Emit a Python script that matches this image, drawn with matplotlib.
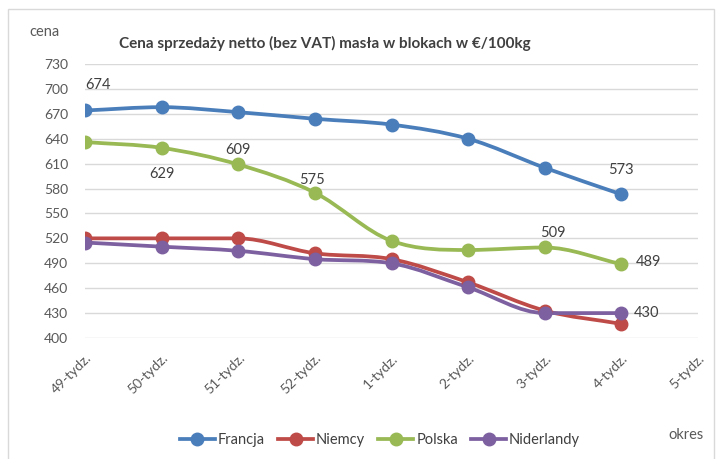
import numpy as np
import matplotlib
matplotlib.use('Agg')
import matplotlib.pyplot as plt
from matplotlib.path import Path
from matplotlib.patches import PathPatch, Rectangle
from matplotlib.lines import Line2D

# dane z wykresu
okresy = ['49-tydz.', '50-tydz.', '51-tydz.', '52-tydz.', '1-tydz.',
          '2-tydz.', '3-tydz.', '4-tydz.', '5-tydz.']
francja = [674, 678, 672, 664, 657, 640, 605, 573]
niemcy = [520, 520, 520, 502, 495, 467, 433, 417]
polska = [636, 629, 609, 575, 517, 506, 509, 489]
niderlandy = [515, 510, 505, 495, 490, 461, 430, 430]
y_ticks = [400, 430, 460, 490, 520, 550, 580, 610, 640, 670, 700, 730]

plt.rcParams['font.family'] = ['Lato', 'DejaVu Sans']

serie = [('Francja', francja, '#4a7ebb'),
         ('Niemcy', niemcy, '#be4b48'),
         ('Polska', polska, '#98b954'),
         ('Niderlandy', niderlandy, '#7d60a0')]

# etykiety danych: (seria, indeks, przesuniecie w pikselach)
etykiety = [('Francja', 0, (13, 25)), ('Francja', 7, (0, 24)),
            ('Polska', 1, (0, -26)), ('Polska', 2, (0, 14)),
            ('Polska', 3, (-3, 13)), ('Polska', 6, (8, 14)),
            ('Polska', 7, (27, 2)), ('Niderlandy', 7, (25, 0))]


def gladka_linia(x, y):
    # wygladzona linia (krzywe Beziera) bez przestrzeliwania
    x = np.asarray(x, float)
    y = np.asarray(y, float)
    n = len(x)
    d = np.diff(y) / np.diff(x)
    m = np.zeros(n)
    m[0], m[-1] = d[0], d[-1]
    for i in range(1, n - 1):
        if d[i - 1] * d[i] <= 0:
            m[i] = 0.0
        else:
            m[i] = (d[i - 1] + d[i]) / 2
            m[i] = np.sign(m[i]) * min(abs(m[i]), 3 * min(abs(d[i - 1]), abs(d[i])))
    verts = [(x[0], y[0])]
    codes = [Path.MOVETO]
    for i in range(n - 1):
        h = x[i + 1] - x[i]
        verts += [(x[i] + h / 3, y[i] + m[i] * h / 3),
                  (x[i + 1] - h / 3, y[i + 1] - m[i + 1] * h / 3),
                  (x[i + 1], y[i + 1])]
        codes += [Path.CURVE4] * 3
    return Path(verts, codes)


fig = plt.figure(figsize=(7.23, 4.59), dpi=100)
ax = fig.add_axes([85 / 723, 1 - 338 / 459, 613 / 723, 274 / 459])

x = np.arange(len(francja))
for nazwa, dane, kolor in serie:
    ax.add_patch(PathPatch(gladka_linia(x, dane), facecolor='none',
                           edgecolor=kolor, lw=2.7, capstyle='round', zorder=3))
    ax.plot(x, dane, 'o', color=kolor, markersize=9, zorder=4)

slownik = {n: d for n, d, k in serie}
for nazwa, i, (dx, dy) in etykiety:
    ax.annotate(str(slownik[nazwa][i]), (x[i], slownik[nazwa][i]),
                xytext=(dx, dy), textcoords='offset pixels',
                ha='center', va='center', fontsize=10.5, color='#404040')

ax.set_xlim(0, len(okresy) - 1)
ax.set_ylim(400, 730)
ax.set_yticks(y_ticks)
ax.set_xticks(np.arange(len(okresy)))
ax.set_xticklabels(okresy, rotation=45, ha='right', va='top',
                   rotation_mode='anchor')
ax.tick_params(axis='both', length=0, labelsize=10, colors='#595959')
ax.tick_params(axis='y', pad=12)
ax.tick_params(axis='x', pad=10)
ax.grid(axis='y', color='#d9d9d9', lw=1.0)
ax.set_axisbelow(True)
for s in ax.spines.values():
    s.set_visible(False)

fig.text(325 / 723, 1 - 43 / 459, 'Cena sprzedaży netto (bez VAT) masła w blokach w €/100kg',
         ha='center', va='center', fontsize=11, fontweight='bold', color='#404040')
fig.text(45 / 723, 1 - 32 / 459, 'cena', ha='center', va='center',
         fontsize=10.5, color='#595959')
fig.text(686 / 723, 1 - 435 / 459, 'okres', ha='center', va='center',
         fontsize=10.5, color='#595959')

uchwyty = [Line2D([0], [0], color=k, lw=2.7, marker='o', markersize=9)
           for n, d, k in serie]
fig.legend(uchwyty, [n for n, d, k in serie], loc='center',
           bbox_to_anchor=(380 / 723, 1 - 440 / 459), ncol=4, frameon=False,
           fontsize=10.5, handlelength=2.4, handletextpad=0.2, columnspacing=0.9,
           labelcolor='#404040')

fig.add_artist(Rectangle((8 / 723, -0.02), 706 / 723, 1 - 9 / 459 + 0.02,
                         transform=fig.transFigure, fill=False,
                         edgecolor='#d9d9d9', lw=1))

fig.savefig('out.png', dpi=100)
